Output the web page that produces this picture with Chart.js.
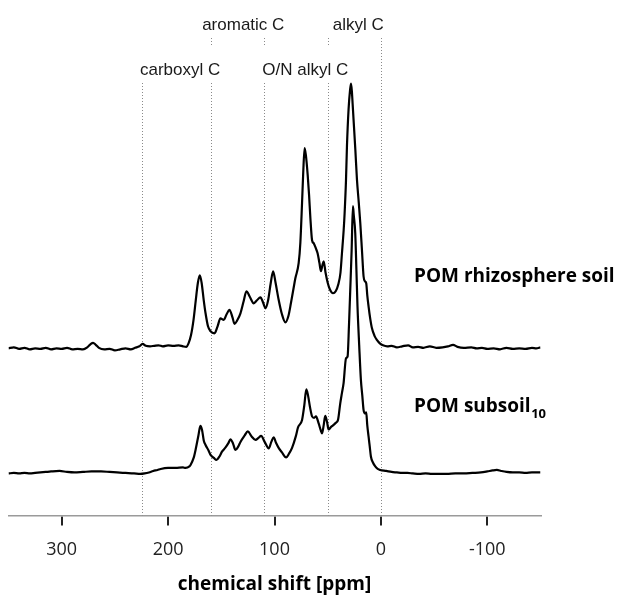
<!DOCTYPE html>
<html>
<head>
<meta charset="utf-8">
<script src="https://cdn.jsdelivr.net/npm/chart.js@4.4.1/dist/chart.umd.min.js"></script>
<style>
  html, body { margin: 0; padding: 0; background: #ffffff; }
  #wrap { width: 618px; height: 596px; position: relative; }
</style>
</head>
<body>
<div id="wrap"><canvas id="c" width="618" height="596"></canvas></div>
<script>
// ---------------- data ----------------
const tickValues = [300, 200, 100, 0, -100];
const axisTitle = 'chemical shift [ppm]';

const regionBounds = [225, 160, 110, 50, 0];
const regionNames = ['carboxyl C', 'aromatic C', 'O/N alkyl C', 'alkyl C'];

const seriesNames = ['POM rhizosphere soil', 'POM subsoil'];
const seriesSub = ['', '10'];

// POM rhizosphere soil (upper trace)
const ppmTop = [350,345,340,335,330,325,320,315,310,305,300,295,290,285,280,276,273,270.5,268,265,260,255,250,245,240,235,231,227,224,221,217,213,209,205,200,195,190,186,183,180.8,178.5,176.1,174,172,170.2,168.5,166.5,164.8,162.5,160.1,156.4,153.5,150.8,147.7,145,142.3,139.5,137.6,135,132,129,126.4,123,119.5,116.5,113.2,110.5,108.5,106,103.5,101.3,99,96.1,93,89.8,87,84.5,82,80.4,77.3,75.7,74.1,73,71.7,70.5,68.8,67.5,66.3,64.7,63.2,61,59.5,57.8,56.3,55,53.8,52,50,48,45,42.5,40,38,36.6,35,34.1,32.8,31.9,30.4,29,28.1,27.3,26.5,25.7,24,22.5,20.8,19.4,17.8,16.3,15,13.8,12.8,11.6,10,8.4,6,3.8,1,-2,-6,-10,-15,-20,-25.6,-30,-35,-40,-46,-52,-58,-63,-67.8,-72,-78,-85,-90,-95,-100,-106,-112,-118,-124,-130,-136,-142,-146,-150];
const intTop = [33.4,33.6,33.3,33.5,33.2,33.4,33.3,33.5,33.2,33.4,33.3,33.5,33.2,33.3,33.2,33.6,34.2,34.5,34.1,33.5,33.2,33.3,33.0,33.2,33.4,33.2,33.5,33.8,34.3,33.9,33.8,33.9,34.0,33.8,34.0,33.9,34.0,33.8,33.7,34.4,36.0,39.1,43.0,46.5,48.0,46.5,43.0,40.4,37.8,36.8,36.4,37.8,39.4,39.1,40.2,41.1,39.6,38.3,39.0,40.4,42.8,44.8,43.6,42.4,43.0,43.6,42.4,41.4,43.0,46.5,48.8,46.5,43.1,40.2,38.6,39.8,42.5,45.5,47.4,50.4,54.5,62.5,68.5,73.4,72.0,68.0,64.0,59.5,55.0,54.4,53.3,52.4,50.5,48.8,50.0,50.8,48.5,46.5,45.2,44.4,44.8,46.2,48.5,52.4,57.0,60.4,67.0,73.8,81.1,85.0,86.3,84.8,82.0,79.1,73.0,67.1,62.5,58.5,53.0,47.8,46.8,46.4,44.0,41.8,39.3,37.4,35.9,35.1,34.4,34.0,33.8,33.9,33.6,33.8,34.0,33.6,33.7,33.5,33.8,33.5,33.6,33.8,34.1,33.7,33.5,33.6,33.4,33.5,33.3,33.4,33.2,33.5,33.3,33.4,33.3,33.5,33.4,33.6];

// POM subsoil10 (lower trace)
const ppmSub = [350,345,340,335,330,325,320,315,310,302,295,288,280,272,263,255,248,240,232,226,222,218,214,210,207,200,193,186,183.6,180,178.9,176,174.2,171.5,169.7,168,166.5,164.8,162,160.1,157,154.5,152,149.2,146,143.5,141.4,139,136.7,134,132,128,125.1,121.5,117.9,115,112.6,109,105.4,103,100.8,98.5,96.1,93,89.1,86,83.5,80,77.9,74.1,72,70.1,68.5,66.5,64.7,62.8,61,58.5,56.5,55.3,53.8,52.3,50.7,49.2,46.8,44.5,42.5,40.3,38.2,36.6,35.1,32.8,31.3,30,28.8,27.5,26.3,25.5,24.1,23,22,20.4,18.8,17.5,16.3,15,13.8,12.8,11.6,10.5,9.4,7.5,5.3,3,0.7,-5,-10,-15,-20,-25,-30,-36,-42,-48,-55,-62,-70,-78,-86,-94,-100,-105,-109,-113,-118,-124,-130,-136,-142,-150];
const intSub = [8.4,8.5,8.4,8.5,8.4,8.5,8.6,8.7,8.8,8.9,8.7,8.6,8.7,8.8,8.8,8.7,8.6,8.5,8.4,8.3,8.4,8.6,8.9,9.1,9.3,9.5,9.5,9.6,9.5,9.8,10.1,11.5,13.1,16.0,17.9,17.0,15.0,14.1,13.0,12.1,11.5,11.1,11.7,12.8,13.6,14.4,15.2,14.4,13.1,13.8,14.7,16.0,16.8,15.8,15.1,15.5,15.9,14.6,13.4,14.7,15.6,14.5,13.5,12.6,11.6,12.5,13.5,15.8,17.6,19.1,22.0,25.2,24.0,21.5,19.8,19.5,19.8,18.4,17.0,16.4,18.0,19.9,18.8,17.2,17.7,18.1,18.5,19.1,22.4,24.5,26.4,31.4,31.8,38.0,45.1,53.0,61.8,60.0,56.4,49.0,41.8,34.0,27.1,24.0,21.1,20.4,20.6,18.0,15.8,13.8,11.8,10.6,9.8,9.3,9.1,8.9,8.7,8.6,8.5,8.5,8.4,8.3,8.4,8.3,8.3,8.3,8.4,8.4,8.5,8.6,8.8,9.0,9.1,8.9,8.7,8.6,8.6,8.5,8.6,8.6];

// ---------------- chart ----------------
const toXY = (xs, ys) => xs.map((v, i) => ({ x: v, y: ys[i] }));

const overlay = {
  id: 'overlay',
  beforeDatasetsDraw(chart) {
    const { ctx, chartArea, scales: { x } } = chart;
    const top = chartArea.top;
    ctx.save();
    // dotted region boundaries
    ctx.strokeStyle = '#8a8a8a';
    ctx.lineWidth = 1;
    ctx.setLineDash([1, 2]);
    regionBounds.forEach((v, i) => {
      const px = Math.round(x.getPixelForValue(v)) + 0.5;
      const y0 = i === 0 ? top + 53 : top + 8;
      ctx.beginPath();
      ctx.moveTo(px, y0);
      ctx.lineTo(px, chartArea.bottom);
      ctx.stroke();
    });
    ctx.setLineDash([]);
    // region labels
    ctx.font = '17px "Liberation Sans", Arial, sans-serif';
    ctx.textBaseline = 'alphabetic';
    ctx.textAlign = 'left';
    const place = [
      { i: 0, dx: -1.5, row: 2 },
      { i: 1, dx: -8.5, row: 1 },
      { i: 2, dx: -1.5, row: 2 },
      { i: 3, dx: 5, row: 1 }
    ];
    place.forEach(p => {
      const lx = x.getPixelForValue(regionBounds[p.i]) + p.dx;
      const by = p.row === 1 ? top - 0.5 : top + 45;
      const w = ctx.measureText(regionNames[p.i]).width;
      if (p.row === 2) {
        ctx.fillStyle = '#ffffff';
        ctx.fillRect(lx - 1, top + 17, w + 2, 36);
      }
      ctx.fillStyle = '#1a1a1a';
      ctx.fillText(regionNames[p.i], lx, by);
    });
    // series labels
    const sx = chartArea.left + 405.5;
    ctx.fillStyle = '#000000';
    ctx.font = 'bold 19px "Open Sans", sans-serif';
    ctx.fillText(seriesNames[0], sx, 281.5);
    ctx.fillText(seriesNames[1], sx, 412);
    const w1 = ctx.measureText(seriesNames[1]).width;
    ctx.font = 'bold 13px "Open Sans", sans-serif';
    ctx.fillText(seriesSub[1], sx + w1 + 0.5, 418);
    ctx.restore();
  }
};

const lineStyle = {
  borderColor: '#000000',
  borderWidth: 2.2,
  pointRadius: 0,
  fill: false,
  cubicInterpolationMode: 'monotone',
  borderJoinStyle: 'round'
};

new Chart(document.getElementById('c'), {
  type: 'line',
  data: {
    datasets: [
      Object.assign({ label: seriesNames[0], data: toXY(ppmTop, intTop) }, lineStyle),
      Object.assign({ label: seriesNames[1] + seriesSub[1], data: toXY(ppmSub, intSub) }, lineStyle)
    ]
  },
  options: {
    responsive: false,
    devicePixelRatio: 1,
    animation: false,
    layout: { padding: { left: 8.5, right: 77.5, top: 30, bottom: 0 } },
    plugins: { legend: { display: false }, tooltip: { enabled: false } },
    scales: {
      x: {
        type: 'linear',
        min: -150,
        max: 350,
        reverse: true,
        position: 'bottom',
        afterBuildTicks: s => { s.ticks = tickValues.map(v => ({ value: v })); },
        afterFit: s => { s.height = 80.5; },
        grid: {
          drawOnChartArea: false,
          drawTicks: true,
          tickLength: 10,
          tickColor: '#222222',
          lineWidth: 2
        },
        border: { display: true, color: '#9a9a9a', width: 1.5 },
        ticks: {
          padding: 14,
          color: '#222222',
          font: { family: '"Open Sans", sans-serif', size: 18 },
          maxRotation: 0,
          autoSkip: false
        },
        title: {
          display: true,
          text: axisTitle,
          color: '#000000',
          font: { family: '"Open Sans", sans-serif', size: 19, weight: 'bold' },
          padding: { top: 0, bottom: 0 }
        }
      },
      y: {
        display: false,
        min: 0,
        max: 97
      }
    }
  },
  plugins: [overlay]
});
</script>
</body>
</html>
